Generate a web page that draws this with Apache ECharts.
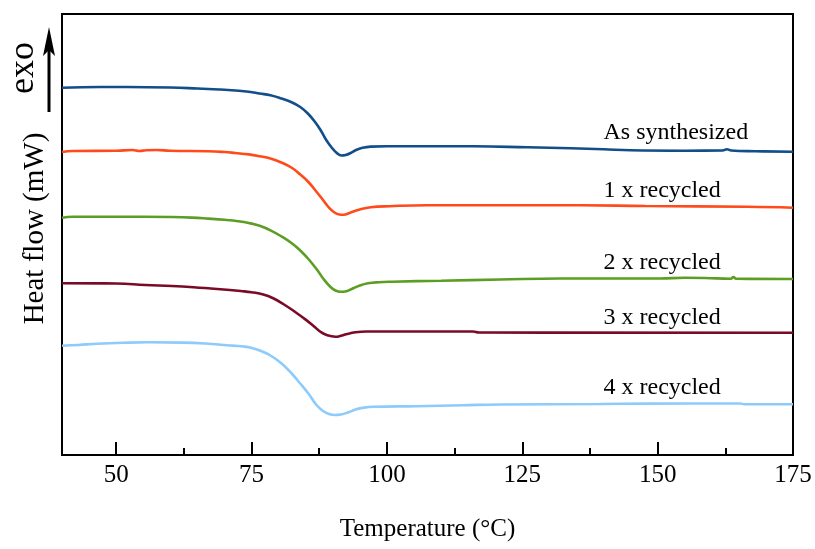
<!DOCTYPE html>
<html>
<head>
<meta charset="utf-8">
<script src="https://cdn.jsdelivr.net/npm/echarts@6/dist/echarts.min.js"></script>
<style>html,body{margin:0;padding:0;background:#fff}#c{width:815px;height:549px}</style>
</head>
<body>
<div id="c"></div>
<script>
// Temperature (°C) vs heat flow (arbitrary offset units)
const xTicks = [50, 75, 100, 125, 150, 175];
const xMinorTicks = [62.5, 87.5, 112.5, 137.5, 162.5];
const seriesNames = ['As synthesized', '1 x recycled', '2 x recycled', '3 x recycled', '4 x recycled'];

const asSynthesized = [[40,36.73],[47,36.8],[52,36.8],[60,36.75],[65,36.65],[69,36.55],[72,36.45],[74.5,36.33],[76.5,36.15],[78.5,35.97],[80.5,35.65],[82.5,35.25],[84,34.8],[85.4,34.15],[86.7,33.33],[87.8,32.45],[88.8,31.5],[89.8,30.75],[90.7,30.23],[91.6,29.95],[92.4,30.0],[93.3,30.2],[94.3,30.5],[95.5,30.72],[97,30.84],[100,30.88],[116,30.87],[126,30.77],[134,30.67],[140,30.57],[145,30.47],[155,30.43],[162,30.45],[162.8,30.58],[163.6,30.45],[168,30.38],[175,30.33]];

const recycled1 = [[40,30.3],[42,30.4],[50,30.42],[53,30.5],[54.3,30.4],[55.5,30.48],[57.5,30.5],[60,30.42],[67,30.38],[70,30.3],[72,30.2],[74.5,30.06],[76.5,29.88],[78.5,29.65],[80.5,29.25],[82.5,28.7],[84,28.05],[85.5,27.3],[87,26.33],[88.2,25.5],[89.2,24.8],[90.2,24.3],[91.2,24.05],[92,24.03],[93.2,24.23],[95,24.55],[97,24.77],[100.5,24.88],[107.4,24.98],[135.7,24.98],[147.7,24.9],[166.6,24.82],[175,24.73]];

const recycled2 = [[40,23.72],[42,23.82],[55,23.83],[60.3,23.8],[64,23.74],[67,23.64],[70,23.52],[72.5,23.38],[74.5,23.2],[76.5,22.92],[78.5,22.47],[80.5,21.87],[82.5,21.15],[84,20.45],[85.5,19.6],[87,18.6],[88.3,17.6],[89.5,16.85],[90.5,16.45],[91.5,16.32],[92.3,16.35],[93.5,16.6],[95,16.95],[96.5,17.17],[98.5,17.28],[101,17.33],[110,17.43],[121,17.55],[132,17.65],[150.5,17.65],[155,17.72],[158.8,17.7],[163.5,17.62],[164,17.8],[164.5,17.62],[175,17.6]];

const recycled3 = [[40,17.17],[50,17.15],[55.4,17.0],[60.3,16.9],[64.3,16.78],[67.5,16.65],[71,16.5],[73,16.4],[75,16.28],[77,16.07],[79,15.68],[81,15.05],[83,14.33],[85,13.54],[86.5,12.88],[87.8,12.3],[89,11.97],[90.5,11.83],[91.5,11.92],[92.5,12.08],[94.2,12.27],[96.2,12.35],[115.9,12.35],[117,12.25],[175,12.23]];

const recycled4 = [[40,10.93],[43,11.0],[46.5,11.12],[51.3,11.22],[56,11.27],[62.2,11.24],[67.7,11.1],[70.5,10.97],[72.5,10.9],[73.5,10.85],[74.5,10.77],[75.5,10.63],[76.5,10.45],[78.5,9.95],[80.5,9.17],[82.5,8.1],[84,7.15],[85.5,6.15],[87,5.0],[88.2,4.4],[89.3,4.1],[90.4,4.0],[91.5,4.05],[92.8,4.25],[94.2,4.55],[95.8,4.74],[97.5,4.82],[105.5,4.88],[114.1,4.98],[121,5.05],[139.4,5.1],[147.7,5.14],[165.3,5.15],[166,5.07],[175,5.07]];

const allData = [asSynthesized, recycled1, recycled2, recycled3, recycled4];
const colors = ['#114e8a', '#ff4a1c', '#5c9e24', '#7a0b27', '#8ccbfb'];
const labelAnchors = [[140, 32.2], [140, 26.4], [140, 19.2], [140, 13.7], [140, 6.7]];

const FONT = '"Liberation Serif", "Times New Roman", serif';
const chart = echarts.init(document.getElementById('c'));
chart.setOption({
  animation: false,
  backgroundColor: '#fff',
  grid: { left: 62, right: 22, top: 14, bottom: 94, show: true, borderColor: '#000', borderWidth: 2, backgroundColor: 'transparent' },
  xAxis: [{
    type: 'value', min: 40, max: 175, interval: 25,
    name: 'Temperature (°C)', nameLocation: 'middle', nameGap: 62,
    nameTextStyle: { fontFamily: FONT, fontSize: 25, color: '#000' },
    axisLine: { lineStyle: { color: '#000', width: 2 } },
    axisTick: { inside: true, length: 13, lineStyle: { color: '#000', width: 2 }, customValues: xTicks },
    axisLabel: { fontFamily: FONT, fontSize: 25, color: '#000', margin: 8, customValues: xTicks },
    splitLine: { show: false }
  }, {
    type: 'value', min: 40, max: 175, position: 'bottom',
    axisLine: { show: false },
    axisTick: { inside: true, length: 7, lineStyle: { color: '#000', width: 2 }, customValues: xMinorTicks },
    axisLabel: { show: false }, splitLine: { show: false }
  }],
  yAxis: {
    type: 'value', min: 0, max: 44.1,
    name: 'Heat flow (mW)', nameLocation: 'middle', nameGap: 12, nameRotate: 90,
    nameTextStyle: { fontFamily: FONT, fontSize: 29, color: '#000', padding: [0, 0, 0, 12] },
    axisLine: { lineStyle: { color: '#000', width: 2 } },
    axisTick: { show: false }, axisLabel: { show: false }, splitLine: { show: false }
  },
  graphic: [
    { type: 'text', left: 6, top: 42, rotation: Math.PI / 2, style: { text: 'exo', font: '36px ' + FONT, fill: '#000' } },
    { type: 'line', shape: { x1: 49, y1: 112, x2: 49, y2: 40 }, style: { stroke: '#000', lineWidth: 3 } },
    { type: 'polygon', shape: { points: [[49, 27], [43, 56], [49, 50], [55, 56]] }, style: { fill: '#000' } }
  ],
  series: allData.map((d, i) => ({
    name: seriesNames[i], type: 'line', data: d, showSymbol: false, symbol: 'none',
    xAxisIndex: 0, smooth: 0.45,
    lineStyle: { color: colors[i], width: 2.6 },
    markPoint: {
      symbol: 'circle', symbolSize: 0, silent: true,
      label: { show: true, formatter: seriesNames[i], position: 'inside', align: 'left', verticalAlign: 'middle',
        fontFamily: FONT, fontSize: 24, color: '#000' },
      data: [{ coord: labelAnchors[i] }]
    }
  }))
});
</script>
</body>
</html>
